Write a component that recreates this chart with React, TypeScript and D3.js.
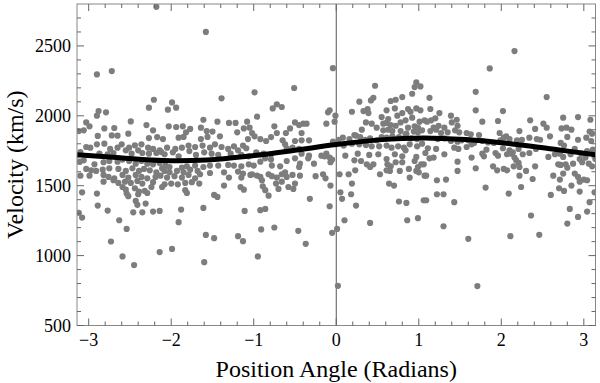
import React from "react";
import * as d3 from "d3";

const W = 600, H = 383;
const margin = { top: 4, right: 4.5, bottom: 57.5, left: 77 };

// axis ticks
const xTickValues = [-3, -2, -1, 0, 1, 2, 3];
const yTickValues = [500, 1000, 1500, 2000, 2500];

// fitted curve
const fitAngle = [-3.1416, -2.62, -2.09, -1.57, -1.05, -0.52, 0, 0.52, 1.05, 1.57, 2.09, 2.62, 3.1416];
const fitVelocity = [1722, 1700, 1680, 1684, 1712, 1752, 1795, 1828, 1842, 1830, 1802, 1762, 1722];

// measured points [position angle, velocity], by angle band
const bandA: [number, number][] = [
  [-2.18, 2780], [-2.90, 2296], [-2.72, 2320], [-2.21, 2115], [-2.27, 2058], [-2.88, 2034], [-2.90, 2001], [-2.79, 2025],
  [-3.03, 1953], [-2.99, 1925], [-2.49, 1960], [-2.30, 1934], [-3.12, 1891], [-3.06, 1896], [-2.81, 1910], [-2.69, 1913],
  [-2.52, 1872], [-2.22, 1896], [-2.89, 1856], [-2.72, 1860], [-2.65, 1858], [-2.27, 1841], [-2.17, 1848],
  [-2.90, 1796], [-2.81, 1801], [-3.03, 1777], [-2.98, 1772], [-2.74, 1763], [-2.65, 1772], [-2.60, 1796], [-2.51, 1772],
  [-2.44, 1789], [-2.36, 1796], [-2.28, 1772], [-2.22, 1763], [-2.14, 1753],
  [-3.10, 1741], [-2.87, 1729], [-2.77, 1725], [-2.70, 1734], [-2.55, 1753], [-2.48, 1729], [-2.40, 1753], [-2.35, 1734],
  [-2.27, 1729], [-2.18, 1734], [-2.12, 1741],
  [-3.11, 1670], [-3.06, 1682], [-2.93, 1653], [-2.82, 1668], [-2.75, 1677], [-2.65, 1672], [-2.59, 1687], [-2.51, 1677],
  [-2.43, 1658], [-2.36, 1677], [-2.29, 1658], [-2.22, 1653], [-2.14, 1663],
  [-3.03, 1620], [-2.97, 1610], [-2.91, 1606], [-2.83, 1615], [-2.75, 1625], [-2.64, 1620], [-2.55, 1606], [-2.47, 1625],
  [-2.39, 1606], [-2.33, 1620], [-2.26, 1610], [-2.18, 1596], [-2.11, 1625],
  [-3.10, 1572], [-2.99, 1572], [-2.82, 1577], [-2.76, 1563], [-2.69, 1553], [-2.59, 1577], [-2.52, 1558], [-2.43, 1577],
  [-2.36, 1563], [-2.29, 1553], [-2.19, 1563], [-2.13, 1572],
  [-2.82, 1529], [-2.70, 1539], [-2.64, 1520], [-2.56, 1529], [-2.49, 1520], [-2.41, 1534], [-2.35, 1515], [-2.22, 1525],
  [-2.59, 1491], [-2.55, 1472], [-2.44, 1482], [-2.39, 1458], [-2.24, 1491], [-2.11, 1491], [-2.32, 1463],
  [-3.08, 1453], [-2.90, 1444], [-2.54, 1444], [-2.52, 1425], [-2.40, 1439], [-2.29, 1448],
  [-2.43, 1391], [-2.41, 1363], [-2.31, 1372], [-2.89, 1358],
  [-3.12, 1306], [-3.08, 1272], [-2.77, 1322], [-2.46, 1310], [-2.35, 1310], [-2.22, 1315], [-2.14, 1320],
  [-2.63, 1253], [-2.54, 1191], [-2.73, 1101], [-2.14, 1025], [-2.59, 994], [-2.45, 932],
];

const bandB: [number, number][] = [
  [-1.58, 2600], [-1.39, 2125], [-1.99, 2096], [-2.04, 2044], [-1.94, 2058],
  [-2.03, 1925], [-1.94, 1920], [-1.86, 1925], [-1.77, 1906], [-1.82, 1882], [-1.61, 1972], [-1.64, 1915], [-1.57, 1891],
  [-1.50, 1887], [-1.44, 1958], [-1.30, 1949], [-1.22, 1949], [-1.08, 1958], [-1.20, 1882], [-1.12, 1910],
  [-2.10, 1834], [-1.91, 1844], [-1.85, 1849], [-1.64, 1834], [-1.56, 1849], [-1.41, 1853], [-1.24, 1782], [-1.13, 1787], [-1.07, 1834],
  [-2.05, 1772], [-1.95, 1763], [-1.87, 1772], [-1.79, 1787], [-1.71, 1777], [-1.62, 1787], [-1.53, 1772], [-1.47, 1796],
  [-1.39, 1777], [-1.31, 1763], [-1.19, 1753], [-1.09, 1768],
  [-2.08, 1725], [-1.98, 1739], [-1.91, 1710], [-1.78, 1748], [-1.70, 1720], [-1.60, 1739], [-1.51, 1729], [-1.43, 1720],
  [-1.28, 1729], [-1.15, 1720], [-1.06, 1710],
  [-2.07, 1644], [-2.02, 1634], [-1.87, 1629], [-1.81, 1639], [-1.71, 1644], [-1.61, 1634], [-1.53, 1644], [-1.43, 1644],
  [-1.31, 1649], [-1.24, 1644], [-1.15, 1639], [-1.06, 1653],
  [-2.08, 1606], [-2.02, 1596], [-1.93, 1606], [-1.85, 1596], [-1.77, 1615], [-1.68, 1606], [-1.53, 1591], [-1.36, 1596],
  [-1.19, 1601], [-1.13, 1587],
  [-2.05, 1558], [-1.96, 1568], [-1.87, 1558], [-1.79, 1577], [-1.71, 1553], [-1.65, 1582], [-1.30, 1558], [-1.15, 1558], [-1.04, 1577],
  [-2.08, 1510], [-2.00, 1515], [-1.92, 1510], [-1.83, 1520], [-1.75, 1525], [-1.66, 1515], [-1.36, 1501], [-1.16, 1491], [-1.12, 1472],
  [-1.83, 1468], [-1.81, 1448], [-1.48, 1434], [-1.44, 1420],
  [-1.61, 1341], [-1.88, 1329], [-1.11, 1320], [-1.91, 1239],
  [-1.58, 1148], [-1.48, 1125], [-1.19, 1139], [-1.13, 1103], [-1.99, 1048], [-1.60, 953],
];

const bandC: [number, number][] = [
  [-0.04, 2341], [-0.51, 2199], [-0.99, 2168], [-0.77, 2053], [-0.72, 2082], [-0.66, 2063], [-0.96, 1994],
  [-0.08, 2039], [-0.10, 2025], [-0.01, 2001], [-0.12, 1944], [-0.02, 1958],
  [-1.05, 1915], [-1.02, 1877], [-0.99, 1853], [-0.92, 1834], [-0.85, 1820], [-0.79, 1848], [-0.75, 1925], [-0.72, 1877],
  [-0.61, 1877], [-0.56, 1910], [-0.50, 1953], [-0.45, 1934], [-0.40, 1944], [-0.36, 1944], [-0.42, 1877], [-0.65, 1825],
  [-0.50, 1820], [-0.42, 1825], [-0.33, 1825], [-0.62, 1796], [-0.04, 1815],
  [-0.97, 1739], [-0.88, 1729], [-0.79, 1725], [-0.60, 1768], [-0.53, 1772], [-0.45, 1763], [-0.42, 1729], [-0.34, 1696],
  [-0.33, 1715], [-0.18, 1715], [-0.12, 1729], [-0.08, 1701], [-0.05, 1687],
  [-1.00, 1644], [-0.92, 1672], [-0.86, 1696], [-0.79, 1687], [-0.78, 1644], [-0.68, 1639], [-0.60, 1677], [-0.50, 1696],
  [-0.44, 1658], [-0.45, 1634], [-0.27, 1658], [-0.14, 1710], [-0.07, 1668],
  [-1.02, 1582], [-0.96, 1572], [-0.92, 1563], [-0.90, 1539], [-0.82, 1582], [-0.78, 1568], [-0.72, 1558], [-0.66, 1582],
  [-0.62, 1596], [-0.60, 1563], [-0.53, 1577], [-0.44, 1572], [-0.25, 1568], [-0.16, 1582], [-0.13, 1553],
  [-0.89, 1496], [-0.86, 1468], [-0.82, 1429], [-0.73, 1515], [-0.70, 1477], [-0.66, 1529], [-0.58, 1491], [-0.52, 1477],
  [-0.50, 1515], [-0.07, 1501], [-0.32, 1406],
  [-0.92, 1325], [-0.86, 1334], [-0.08, 1353], [-0.91, 1187], [-0.75, 1201], [-0.46, 1177], [-0.05, 1163], [0.01, 1191],
  [-0.37, 1084], [-0.95, 994],
];

const bandD: [number, number][] = [
  [0.47, 2215], [0.97, 2239], [0.95, 2206], [1.02, 2210], [0.92, 2158], [0.28, 2101], [0.45, 2129], [0.42, 2110],
  [0.66, 2106], [0.72, 2115], [0.80, 2134],
  [0.19, 2029], [0.33, 2034], [0.38, 2048], [0.39, 2020], [0.61, 2039], [0.71, 2053], [0.55, 1991], [0.63, 1977],
  [0.74, 2001], [0.80, 2020], [0.87, 2048], [0.90, 2029], [0.97, 2053], [1.02, 2039], [0.92, 1987], [1.01, 1958], [1.07, 1968],
  [0.36, 1953], [0.43, 1944], [0.49, 1915], [0.31, 1901], [0.22, 1863], [0.57, 1944], [0.61, 1949], [0.66, 1934],
  [0.72, 1929], [0.78, 1953], [0.84, 1968], [0.87, 1915], [0.95, 1925], [0.99, 1915],
  [0.57, 1896], [0.63, 1901], [0.68, 1891], [0.78, 1891], [0.85, 1872], [0.94, 1887], [0.99, 1882], [1.04, 1896],
  [0.03, 1829], [0.08, 1844], [0.16, 1834], [0.24, 1858], [0.29, 1848], [0.35, 1829], [0.41, 1839], [0.49, 1825],
  [0.55, 1848], [0.61, 1844], [0.68, 1853], [0.76, 1848], [0.84, 1863], [0.91, 1839], [0.98, 1834],
  [0.09, 1787], [0.19, 1801], [0.28, 1796], [0.36, 1791], [0.43, 1782], [0.52, 1782], [0.61, 1787], [0.67, 1772],
  [0.75, 1782], [0.82, 1772], [0.89, 1796], [0.98, 1782], [1.04, 1801],
  [0.11, 1715], [0.26, 1729], [0.40, 1720], [0.51, 1725], [0.61, 1691], [0.71, 1725], [0.80, 1710], [0.84, 1753],
  [0.97, 1706], [1.08, 1734],
  [0.22, 1682], [0.30, 1677], [0.37, 1653], [0.41, 1634], [0.45, 1653], [0.62, 1653], [0.66, 1639], [0.72, 1668],
  [0.80, 1668], [0.95, 1677], [1.03, 1653], [0.99, 1634],
  [0.04, 1582], [0.15, 1582], [0.23, 1610], [0.53, 1582], [0.61, 1610], [0.65, 1606], [0.77, 1606], [0.88, 1620],
  [0.89, 1558], [0.97, 1606], [1.00, 1596],
  [0.19, 1515], [0.64, 1515], [0.70, 1501], [1.07, 1572],
  [0.05, 1453], [0.07, 1406], [0.18, 1439], [0.24, 1358], [0.76, 1387], [0.85, 1377], [1.06, 1396],
  [0.10, 1253], [0.41, 1234], [0.86, 1253], [0.99, 1268], [0.02, 784],
];

const bandE: [number, number][] = [
  [1.86, 2339], [1.69, 2172], [1.13, 2129], [1.14, 2049], [1.25, 2020], [2.02, 2034], [1.69, 2039], [1.77, 1958],
  [1.96, 1963], [1.20, 1982], [1.10, 1958], [1.15, 1968], [1.24, 1929], [1.18, 1915], [1.31, 1915], [1.39, 2001],
  [1.46, 1972], [1.40, 1953], [1.47, 1929],
  [1.14, 1891], [1.21, 1901], [1.27, 1877], [1.35, 1882], [1.44, 1896], [1.49, 1882], [1.58, 1877], [1.63, 1868],
  [1.73, 1863], [1.98, 1877], [2.06, 1853], [2.03, 1844], [2.10, 1834],
  [1.23, 1834], [1.31, 1839], [1.39, 1820], [1.47, 1815], [1.52, 1825], [1.60, 1825], [1.67, 1806], [1.77, 1820],
  [1.84, 1810], [1.91, 1806], [1.99, 1825],
  [1.11, 1768], [1.21, 1763], [1.43, 1772], [1.48, 1763], [1.58, 1777], [1.64, 1796], [1.82, 1758], [2.02, 1768], [2.10, 1753],
  [1.31, 1725], [1.77, 1729], [1.93, 1734], [1.79, 1710], [2.07, 1725], [2.12, 1729], [1.13, 1696], [1.18, 1701],
  [1.64, 1701], [1.96, 1715],
  [1.06, 1653], [1.47, 1672], [1.69, 1625], [1.90, 1639], [1.95, 1610], [2.03, 1620], [2.07, 1610],
  [1.09, 1572], [1.47, 1606], [1.22, 1539], [1.33, 1544], [1.81, 1487], [2.09, 1444], [1.22, 1439], [1.30, 1439],
  [1.09, 1396], [1.43, 1382], [1.30, 1210], [1.60, 1120], [2.11, 1139], [1.71, 782],
];

const bandF: [number, number][] = [
  [2.16, 2463], [2.55, 2134],
  [2.35, 1968], [2.41, 1906], [2.51, 1944], [2.55, 1915], [2.22, 1891], [2.59, 1853], [2.75, 1987], [2.73, 1910],
  [2.79, 1915], [2.85, 1901], [2.93, 1991], [3.08, 1972], [3.07, 1887], [3.10, 1872], [3.09, 1820], [3.03, 1844], [2.93, 1829],
  [2.19, 1825], [2.25, 1829], [2.34, 1844], [2.43, 1834], [2.47, 1829], [2.72, 1806], [2.76, 1787], [2.80, 1849],
  [2.14, 1739], [2.21, 1763], [2.26, 1725], [2.34, 1734], [2.42, 1763], [2.57, 1706], [2.65, 1725], [2.71, 1729],
  [2.75, 1706], [2.89, 1763], [2.84, 1725], [2.97, 1729], [3.04, 1748], [3.11, 1758],
  [2.16, 1701], [2.18, 1682], [2.15, 1639], [2.21, 1663], [2.22, 1634], [2.30, 1606], [2.41, 1639], [2.69, 1653],
  [2.72, 1649], [2.78, 1653], [2.80, 1629], [2.87, 1658], [2.95, 1691], [2.98, 1668], [3.02, 1701], [3.06, 1658],
  [3.10, 1639], [3.14, 1691],
  [2.22, 1572], [2.38, 1548], [2.63, 1572], [2.71, 1544], [2.75, 1587], [2.89, 1587], [2.93, 1563], [2.95, 1529],
  [3.00, 1544], [3.04, 1539],
  [2.24, 1491], [2.70, 1482], [2.76, 1463], [2.85, 1501], [2.95, 1458], [3.13, 1453], [2.60, 1434],
  [2.83, 1334], [3.07, 1382], [3.04, 1315], [2.36, 1287], [2.93, 1277], [2.80, 1229], [2.46, 1149],
];

const points = [...bandA, ...bandB, ...bandC, ...bandD, ...bandE, ...bandF];

const fmt = (v: number) => (v < 0 ? "\u2212" + Math.abs(v) : String(v));

export default function App() {
  const x = d3.scaleLinear().domain([-Math.PI, Math.PI]).range([margin.left, W - margin.right]);
  const y = d3.scaleLinear().domain([500, 2800]).range([H - margin.bottom, margin.top]);
  const [x0, x1] = x.range();
  const [y0, y1] = y.range();

  const xMinor = d3.range(-30, 31, 2).map(v => v / 10).filter(v => !Number.isInteger(v));
  const yMinor = d3.range(600, 2800, 100).filter(v => v % 500 !== 0);

  const fitLine = d3.line<number>()
    .x((_, i) => x(fitAngle[i]))
    .y(d => y(d))
    .curve(d3.curveCatmullRom)(fitVelocity);

  const tickColor = "#666";
  const major = 7, minor = 4;

  return (
    <svg width={W} height={H} style={{ position: "absolute", left: 0, top: 0 }} fontFamily="Liberation Serif">
      <defs>
        <clipPath id="plotArea">
          <rect x={x0} y={y1} width={x1 - x0} height={y0 - y1} />
        </clipPath>
      </defs>

      {/* zero line */}
      <line x1={x(0)} x2={x(0)} y1={y0} y2={y1} stroke="#555" strokeWidth={1} />

      <g clipPath="url(#plotArea)">
        {points.map((d, i) => (
          <circle key={i} cx={x(d[0])} cy={y(d[1])} r={3.1} fill="#7d7d7d" />
        ))}
        <path d={fitLine || ""} fill="none" stroke="#000" strokeWidth={5} />
      </g>

      {/* frame */}
      <rect x={x0} y={y1} width={x1 - x0} height={y0 - y1} fill="none" stroke="#888" strokeWidth={1} />

      {/* x ticks, bottom and top */}
      <g stroke={tickColor} strokeWidth={1}>
        {xTickValues.map(v => (
          <g key={"xM" + v}>
            <line x1={x(v)} x2={x(v)} y1={y0} y2={y0 - major} />
            <line x1={x(v)} x2={x(v)} y1={y1} y2={y1 + major} />
          </g>
        ))}
        {xMinor.map(v => (
          <g key={"xm" + v}>
            <line x1={x(v)} x2={x(v)} y1={y0} y2={y0 - minor} />
            <line x1={x(v)} x2={x(v)} y1={y1} y2={y1 + minor} />
          </g>
        ))}
        {yTickValues.map(v => (
          <g key={"yM" + v}>
            <line x1={x0} x2={x0 + major} y1={y(v)} y2={y(v)} />
            <line x1={x1} x2={x1 - major} y1={y(v)} y2={y(v)} />
          </g>
        ))}
        {yMinor.map(v => (
          <g key={"ym" + v}>
            <line x1={x0} x2={x0 + minor} y1={y(v)} y2={y(v)} />
            <line x1={x1} x2={x1 - minor} y1={y(v)} y2={y(v)} />
          </g>
        ))}
      </g>

      {/* tick labels */}
      <g fontSize={18} fill="#000">
        {xTickValues.map(v => (
          <text key={"xl" + v} x={x(v)} y={y0 + 20} textAnchor="middle">{fmt(v)}</text>
        ))}
        {yTickValues.map(v => (
          <text key={"yl" + v} x={x0 - 6} y={y(v) + 6} textAnchor="end">{v}</text>
        ))}
      </g>

      {/* axis titles */}
      <text x={(x0 + x1) / 2} y={377} textAnchor="middle" fontSize={24} fill="#000">
        Position Angle (Radians)
      </text>
      <text transform={`translate(23,${(y0 + y1) / 2}) rotate(-90)`} textAnchor="middle" fontSize={24} fill="#000">
        Velocity (km/s)
      </text>
    </svg>
  );
}
